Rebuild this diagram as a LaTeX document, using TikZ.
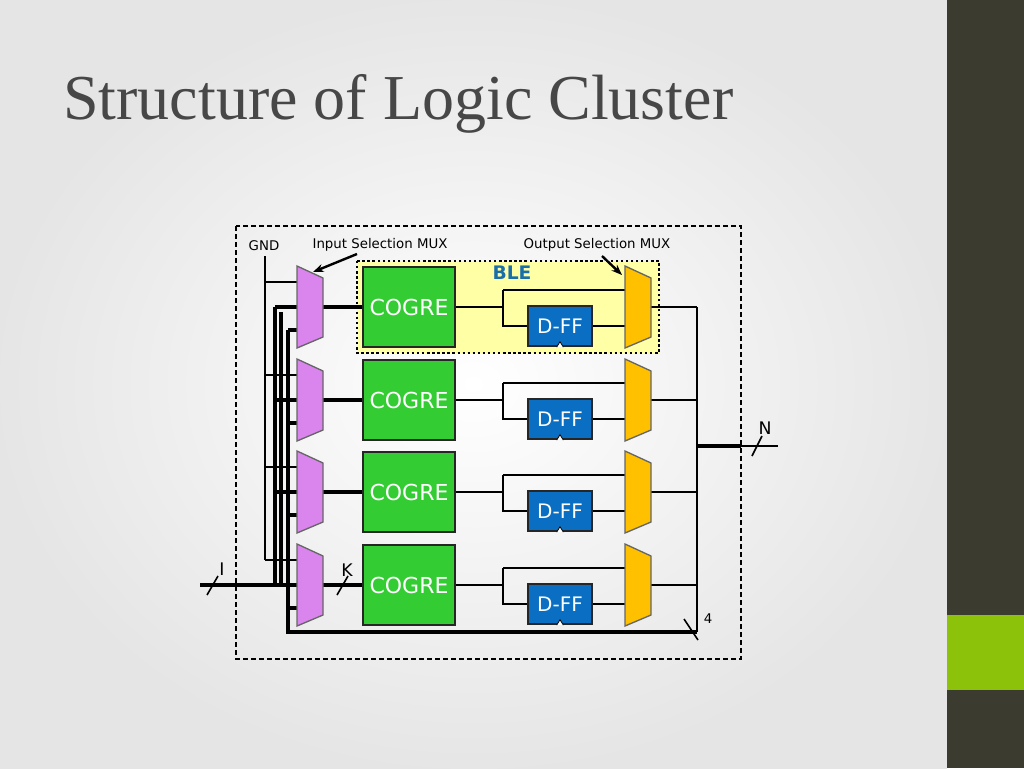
\documentclass[tikz,border=0pt]{standalone}
\usepackage{fontspec}
\setmainfont{DejaVu Sans}
\newfontfamily\titlefont{Liberation Serif}
\usetikzlibrary{arrows.meta}
\definecolor{cogreg}{HTML}{33CC33}
\definecolor{dffb}{HTML}{0A6FC2}
\definecolor{muxp}{HTML}{DA85EE}
\definecolor{muxo}{HTML}{FFC000}
\definecolor{blebg}{HTML}{FFFFA6}
\definecolor{blet}{HTML}{1A6FA8}
\definecolor{strip}{HTML}{3C3B2F}
\definecolor{lime}{HTML}{8DC20A}
\begin{document}
\begin{tikzpicture}[x=0.75pt,y=-0.75pt,
  cogre/.style={draw=black!85,line width=2pt,fill=cogreg,text=white,minimum width=69pt,minimum height=60pt,inner sep=0pt,font=\fontsize{16.5}{16.5}\selectfont},
  dff/.style={draw=black!85,line width=1.6pt,fill=dffb,text=white,minimum width=48pt,minimum height=30pt,inner sep=0pt,font=\fontsize{15}{15}\selectfont},
  mux/.style={draw=black!60,line width=1pt},
  thin/.style={line width=1.2pt},
  thick/.style={line width=3pt},
  lbl/.style={font=\fontsize{10}{10}\selectfont,inner sep=0pt}]
\useasboundingbox (0,0) rectangle (1024,768);
\shade[inner color=white,outer color=black!10] (0,0) rectangle (947,768);
\fill[strip] (947,0) rectangle (1024,768);
\fill[lime] (947,615) rectangle (1024,690);
\node[anchor=base west,inner sep=0pt,text=black!72,font=\titlefont\fontsize{48}{48}\selectfont] (title) at (63,119) {Structure of Logic Cluster};
% outer box
\draw[line width=2.2pt,dash pattern=on 4pt off 2pt] (236,226) rectangle (741,659);
% BLE
\fill[blebg] (357,261) rectangle (659,353);
\draw[line width=1.8pt,dotted] (357,261) rectangle (659,353);
\node[font=\bfseries\fontsize{14}{14}\selectfont,text=blet] (ble) at (512,273) {BLE};
\node[lbl] (gnd) at (264,246) {GND};
\node[lbl] (ism) at (380,245) {Input Selection MUX};
\node[lbl] (osm) at (597,245) {Output Selection MUX};
% left buses
\draw[thin] (265,256) -- (265,560);
\draw[thick] (200,585) -- (275,585) -- (275,307);
\draw[thick] (281,585) -- (281,312);
\draw[thick] (697,632) -- (288,632) -- (288,330);
\draw[thin] (697,307) -- (697,632);
\draw[thick] (697,446) -- (741,446);
\draw[thin] (741,446) -- (778,446);
\foreach \i/\c in {1/307,2/400,3/492,4/585}{
  \draw[thin] (265,\c-25) -- (297,\c-25);
  \draw[thick] (275,\c) -- (297,\c);
  \draw[thick] (288,\c+23) -- (297,\c+23);
  \draw[thick] (323,\c) -- (362,\c);
  \node[cogre] (cg\i) at (409,\c) {COGRE};
  \node[dff] (df\i) at (560,\c+19) {D-FF};
  \draw[line width=0.6pt,fill=white] ([xshift=-2.5pt]df\i.south) -- ([yshift=4pt]df\i.south) -- ([xshift=2.5pt]df\i.south);
  \draw[thin] (cg\i.east) -- (503,\c) (503,\c-17) -- (503,\c+19) -- (df\i.west);
  \draw[thin] (503,\c-17) -- (625,\c-17);
  \draw[thin] (df\i.east) -- (625,\c+19);
  \draw[thin] (651,\c) -- (697,\c);
  \draw[mux,fill=muxp] (297,\c-41) -- (323,\c-29) -- (323,\c+30) -- (297,\c+41) -- cycle;
  \draw[mux,fill=muxo] (625,\c-41) -- (651,\c-29) -- (651,\c+30) -- (625,\c+41) -- cycle;
}
% arrows
\draw[line width=1.8pt,-{Stealth[length=8pt]}] (357,254) -- (313,272);
\draw[line width=1.8pt,-{Stealth[length=8pt]}] (602,256) -- (622,275);
% bus slashes and labels
\draw[thin] (207,595) -- (218,576);
\node[lbl,font=\fontsize{13}{13}\selectfont] (il) at (222,569) {I};
\draw[thin] (337,595) -- (348,576);
\node[lbl,font=\fontsize{13}{13}\selectfont] (kl) at (347,570) {K};
\draw[thin] (752,456) -- (762,436);
\node[lbl,font=\fontsize{13}{13}\selectfont] (nl) at (765,428) {N};
\draw[thin] (684,619) -- (698,640);
\node[lbl] (fl) at (708,619) {4};
\end{tikzpicture}
\end{document}
